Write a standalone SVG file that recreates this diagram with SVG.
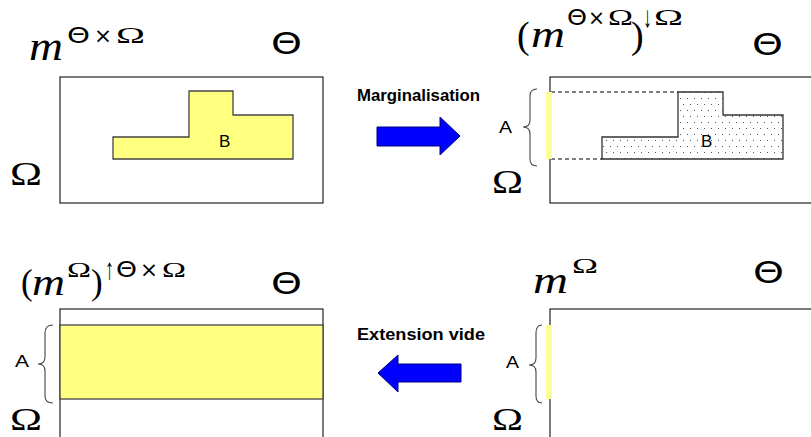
<svg xmlns="http://www.w3.org/2000/svg" width="811" height="437" viewBox="0 0 811 437">
<style>
.frame{fill:#fff;stroke:#333;stroke-width:1.3}
.yel{fill:#ffff80;stroke:#444;stroke-width:1.3}
.bar{fill:#ffff99;stroke:none}
.brace{fill:none;stroke:#444;stroke-width:1.1}
.dash{stroke:#000;stroke-width:1.1;stroke-dasharray:4 3;fill:none}
.lab{font-family:"Liberation Sans",Arial,sans-serif;font-size:17px;fill:#000}
.op{font-family:"Liberation Sans",Arial,sans-serif;font-size:16.5px;font-weight:bold;fill:#000}
.mi{font-family:"Liberation Serif","Times New Roman",serif;font-style:italic;fill:#000}
.rm{font-family:"Liberation Serif","Times New Roman",serif;fill:#000}
.th{font-family:"DejaVu Sans",sans-serif;fill:#000}
.arrow{fill:#0000ff;stroke:#000080;stroke-width:1}
</style>
<defs>
<pattern id="dots" width="7" height="12" patternUnits="userSpaceOnUse">
<rect width="7" height="12" fill="#fff"/>
<rect x="1" y="2" width="1" height="1" fill="#555"/>
<rect x="4" y="8" width="1" height="1" fill="#555"/>
</pattern>
</defs>

<g id="panel-joint">
<text class="mi" x="29" y="60" font-size="39" textLength="34" lengthAdjust="spacingAndGlyphs">m</text>
<text class="th" x="67" y="43" font-size="22" textLength="23" lengthAdjust="spacingAndGlyphs">Θ</text>
<text class="th" x="94" y="43" font-size="22" textLength="18" lengthAdjust="spacingAndGlyphs">×</text>
<text class="rm" x="116" y="43" font-size="24" textLength="29" lengthAdjust="spacingAndGlyphs">Ω</text>
<text class="th" x="271" y="54" font-size="30" textLength="31" lengthAdjust="spacingAndGlyphs">Θ</text>
<text class="rm" x="10" y="185" font-size="33" textLength="32" lengthAdjust="spacingAndGlyphs">Ω</text>
<rect class="frame" x="60" y="77" width="263" height="126"/>
<polygon class="yel" points="113,137 189,137 189,91 233,91 233,115 293,115 293,159 113,159"/>
<text class="lab" x="219" y="147" font-size="19">B</text>
</g>

<g id="panel-marginal">
<text class="rm" x="517" y="48" font-size="38">(</text>
<text class="mi" x="531" y="47" font-size="37" textLength="34" lengthAdjust="spacingAndGlyphs">m</text>
<text class="th" x="567" y="25" font-size="21" textLength="20" lengthAdjust="spacingAndGlyphs">Θ</text>
<text class="th" x="588" y="25" font-size="21" textLength="17" lengthAdjust="spacingAndGlyphs">×</text>
<text class="rm" x="608" y="25" font-size="23" textLength="25" lengthAdjust="spacingAndGlyphs">Ω</text>
<text class="rm" x="631" y="48" font-size="38">)</text>
<text class="rm" x="643" y="27" font-size="30" textLength="9" lengthAdjust="spacingAndGlyphs">↓</text>
<text class="rm" x="654" y="25" font-size="23" textLength="29" lengthAdjust="spacingAndGlyphs">Ω</text>
<text class="th" x="752" y="55" font-size="30" textLength="31" lengthAdjust="spacingAndGlyphs">Θ</text>
<text class="rm" x="492" y="193" font-size="33" textLength="31" lengthAdjust="spacingAndGlyphs">Ω</text>
<rect class="frame" x="550" y="77" width="263" height="126"/>
<polygon points="602,137 678,137 678,92 723,92 723,115 783,115 783,159 602,159" fill="url(#dots)" stroke="#333" stroke-width="1.3"/>
<line class="dash" x1="551" y1="92" x2="678" y2="92"/>
<line class="dash" x1="551" y1="159" x2="602" y2="159"/>
<rect class="bar" x="546" y="92" width="6" height="67"/>
<path class="brace" d="M537,89 Q530,89 530,96 L530,120 Q530,127 523,127 Q530,127 530,134 L530,159 Q530,166 537,166"/>
<text class="lab" x="499" y="133" textLength="13" lengthAdjust="spacingAndGlyphs">A</text>
<text class="lab" x="701" y="147" font-size="19">B</text>
</g>

<g id="panel-extension">
<text class="rm" x="21" y="294" font-size="35">(</text>
<text class="mi" x="32" y="295" font-size="37" textLength="33" lengthAdjust="spacingAndGlyphs">m</text>
<text class="rm" x="67" y="277" font-size="22" textLength="24" lengthAdjust="spacingAndGlyphs">Ω</text>
<text class="rm" x="91" y="294" font-size="35">)</text>
<text class="rm" x="105" y="279" font-size="30" textLength="9" lengthAdjust="spacingAndGlyphs">↑</text>
<text class="th" x="116" y="277" font-size="21" textLength="21" lengthAdjust="spacingAndGlyphs">Θ</text>
<text class="th" x="140" y="277" font-size="21" textLength="18" lengthAdjust="spacingAndGlyphs">×</text>
<text class="rm" x="162" y="277" font-size="22" textLength="24" lengthAdjust="spacingAndGlyphs">Ω</text>
<text class="th" x="271" y="294" font-size="30" textLength="31" lengthAdjust="spacingAndGlyphs">Θ</text>
<text class="rm" x="10" y="430" font-size="31" textLength="32" lengthAdjust="spacingAndGlyphs">Ω</text>
<rect class="frame" x="60" y="309" width="263" height="140"/>
<rect class="yel" x="60" y="325" width="263" height="74"/>
<path class="brace" d="M53,325 Q45,325 45,333 L45,357 Q45,364 38,364 Q45,364 45,371 L45,396 Q45,403 53,403"/>
<text class="lab" x="15" y="367" textLength="14" lengthAdjust="spacingAndGlyphs">A</text>
</g>

<g id="panel-marginal-empty">
<text class="mi" x="533" y="293" font-size="37" textLength="35" lengthAdjust="spacingAndGlyphs">m</text>
<text class="rm" x="572" y="273" font-size="22" textLength="26" lengthAdjust="spacingAndGlyphs">Ω</text>
<text class="th" x="753" y="283" font-size="30" textLength="31" lengthAdjust="spacingAndGlyphs">Θ</text>
<text class="rm" x="492" y="430" font-size="31" textLength="31" lengthAdjust="spacingAndGlyphs">Ω</text>
<rect class="frame" x="550" y="309" width="263" height="140"/>
<rect class="bar" x="546" y="325" width="6" height="74"/>
<path class="brace" d="M542,325 Q536,325 536,333 L536,358 Q536,365 529,365 Q536,365 536,372 L536,396 Q536,403 542,403"/>
<text class="lab" x="506" y="368" textLength="13" lengthAdjust="spacingAndGlyphs">A</text>
</g>

<g id="connectors">
<g id="arrow-marginalisation">
<text class="op" x="357" y="101" textLength="123" lengthAdjust="spacingAndGlyphs">Marginalisation</text>
<polygon class="arrow" points="377,127 440,127 440,117 460,136 440,155 440,146 377,146"/>
</g>
<g id="arrow-extension">
<text class="op" x="357" y="340" textLength="128" lengthAdjust="spacingAndGlyphs">Extension vide</text>
<polygon class="arrow" points="461,364 398,364 398,355 378,373 398,392 398,382 461,382"/>
</g>
</g>
</svg>
